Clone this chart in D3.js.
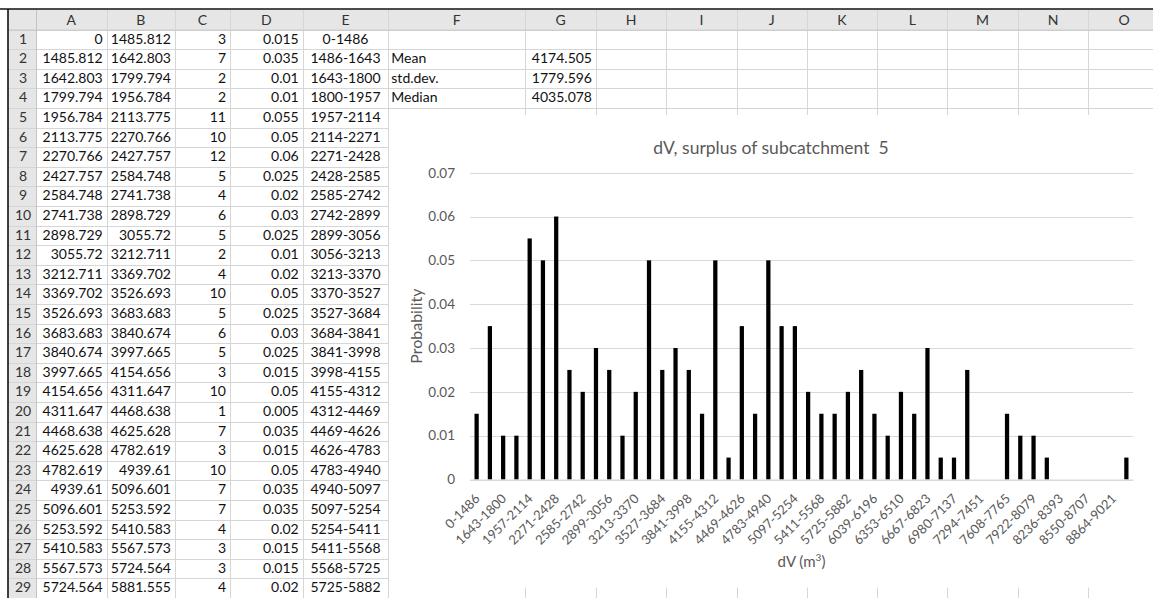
<!DOCTYPE html>
<html><head><meta charset="utf-8">
<script src="https://cdn.jsdelivr.net/npm/d3@7"></script>
<style>
html,body{margin:0;padding:0;background:#fff;}
svg{display:block;font-family:Lato, "Open Sans", sans-serif;}
text{white-space:pre;}
</style></head>
<body><svg id="c" width="1153" height="598"></svg>
<script>
// ---- data ----
const colLetters = ["A","B","C","D","E","F","G","H","I","J","K","L","M","N","O"];
const binLower = [0,1485.812,1642.803,1799.794,1956.784,2113.775,2270.766,2427.757,2584.748,2741.738,2898.729,3055.72,3212.711,3369.702,3526.693,3683.683,3840.674,3997.665,4154.656,4311.647,4468.638,4625.628,4782.619,4939.61,5096.601,5253.592,5410.583,5567.573,5724.564];
const binUpper = [1485.812,1642.803,1799.794,1956.784,2113.775,2270.766,2427.757,2584.748,2741.738,2898.729,3055.72,3212.711,3369.702,3526.693,3683.683,3840.674,3997.665,4154.656,4311.647,4468.638,4625.628,4782.619,4939.61,5096.601,5253.592,5410.583,5567.573,5724.564,5881.555];
const counts = [3,7,2,2,11,10,12,5,4,6,5,2,4,10,5,6,5,3,10,1,7,3,10,7,7,4,3,3,4];
const categories = ["0-1486","1486-1643","1643-1800","1800-1957","1957-2114","2114-2271","2271-2428","2428-2585","2585-2742","2742-2899","2899-3056","3056-3213","3213-3370","3370-3527","3527-3684","3684-3841","3841-3998","3998-4155","4155-4312","4312-4469","4469-4626","4626-4783","4783-4940","4940-5097","5097-5254","5254-5411","5411-5568","5568-5725","5725-5882","5882-6039","6039-6196","6196-6353","6353-6510","6510-6667","6667-6823","6823-6980","6980-7137","7137-7294","7294-7451","7451-7608","7608-7765","7765-7922","7922-8079","8079-8236","8236-8393","8393-8550","8550-8707","8707-8864","8864-9021","9021-9178"];
const probability = [0.015,0.035,0.01,0.01,0.055,0.05,0.06,0.025,0.02,0.03,0.025,0.01,0.02,0.05,0.025,0.03,0.025,0.015,0.05,0.005,0.035,0.015,0.05,0.035,0.035,0.02,0.015,0.015,0.02,0.025,0.015,0.01,0.02,0.015,0.03,0.005,0.005,0.025,0,0,0.015,0.01,0.01,0.005,0,0,0,0,0,0.005];
const statLabels = ["Mean","std.dev.","Median"];
const statValues = ["4174.505","1779.596","4035.078"];
const yTicks = [0,0.01,0.02,0.03,0.04,0.05,0.06,0.07];
const chartTitle = "dV, surplus of subcatchment  5";
const yTitle = "Probability";

// ---- sheet layout ----
const svg = d3.select("#c");
const colEdges = [8,36,106.7,175,230,302.7,388.3,525,596,666,736.7,806.7,877.3,947.3,1017.7,1088.3,1160];
const topY = 9.5, headH = 20, rowH = 19.6, nRows = 29;
const rowTop = r => topY + headH + (r-1)*rowH;
const W = 1153, H = 598;
const FS = "14px";
const base = rowH/2 + 4.2;

svg.append("rect").attr("x",colEdges[0]).attr("y",topY).attr("width",W-colEdges[0]).attr("height",headH).attr("fill","#e6e6e6");
svg.append("rect").attr("x",colEdges[0]).attr("y",topY).attr("width",colEdges[1]-colEdges[0]).attr("height",H-topY).attr("fill","#e6e6e6");

const grid = svg.append("g").attr("stroke-width",1);
for (let r=1;r<=nRows+1;r++){
  const y = Math.round(rowTop(r))+0.5;
  grid.append("line").attr("x1",colEdges[0]).attr("x2",W).attr("y1",y).attr("y2",y).attr("stroke","#d6d6d6");
}
colEdges.slice(1).forEach((x,i)=>{
  const xx = Math.round(x)+0.5;
  grid.append("line").attr("x1",xx).attr("x2",xx).attr("y1",topY).attr("y2",H)
    .attr("stroke", i===0 ? "#c4c4c4" : "#d6d6d6");
});
svg.append("line").attr("x1",colEdges[0]).attr("x2",W).attr("y1",topY+headH+0.5).attr("y2",topY+headH+0.5).attr("stroke","#c4c4c4");
svg.append("line").attr("x1",0).attr("x2",W).attr("y1",9).attr("y2",9).attr("stroke","#111").attr("stroke-width",1.6);
svg.append("line").attr("x1",8).attr("x2",8).attr("y1",9).attr("y2",H).attr("stroke","#111").attr("stroke-width",1.6);

const txt = svg.append("g").attr("font-size",FS).attr("fill","#111");
colLetters.forEach((c,i)=>{
  txt.append("text").attr("x",(colEdges[i+1]+colEdges[i+2])/2).attr("y",topY+headH/2+5)
    .attr("text-anchor","middle").attr("fill","#333").text(c);
});
for (let r=1;r<=nRows;r++){
  txt.append("text").attr("x",(colEdges[0]+colEdges[1])/2+1).attr("y",rowTop(r)+base)
    .attr("text-anchor","middle").attr("fill","#333").text(r);
}
for (let i=0;i<nRows;i++){
  const y = rowTop(i+1)+base;
  const vals = [binLower[i], binUpper[i], counts[i], probability[i]];
  vals.forEach((v,j)=>{
    txt.append("text").attr("x",colEdges[j+2]-4).attr("y",y).attr("text-anchor","end").text(String(v));
  });
  txt.append("text").attr("x",(colEdges[5]+colEdges[6])/2).attr("y",y).attr("text-anchor","middle").text(categories[i]);
}
statLabels.forEach((s,i)=>{
  const y = rowTop(i+2)+base;
  txt.append("text").attr("x",colEdges[6]+3).attr("y",y).text(s);
  txt.append("text").attr("x",colEdges[8]-4).attr("y",y).attr("text-anchor","end").text(statValues[i]);
});

// ---- chart ----
const chartX = 389, chartY = 115, chartB = 587.5;
svg.append("rect").attr("x",chartX).attr("y",chartY).attr("width",W-chartX).attr("height",chartB-chartY).attr("fill","#fff");

const plot = {l:470, r:1133, t:172.7, b:479.5};
const x = d3.scaleBand().domain(categories).range([plot.l, plot.r]).paddingInner(0.68).paddingOuter(0.34);
const y = d3.scaleLinear().domain([0,0.07]).range([plot.b, plot.t]);

const ch = svg.append("g");
ch.append("g").selectAll("line").data(yTicks).join("line")
  .attr("x1",plot.l).attr("x2",plot.r)
  .attr("y1",d=>Math.round(y(d))+0.5).attr("y2",d=>Math.round(y(d))+0.5)
  .attr("stroke","#d9d9d9").attr("stroke-width",1);

ch.append("g").selectAll("rect").data(probability).join("rect")
  .attr("x",(d,i)=>x(categories[i])).attr("width",x.bandwidth())
  .attr("y",d=>y(d)).attr("height",d=>y(0)-y(d)).attr("fill","#000");

const yAxis = d3.axisLeft(y).tickValues(yTicks).tickSize(0).tickPadding(15)
  .tickFormat(d=> d===0 ? "0" : d3.format(".2f")(d));
const ya = ch.append("g").attr("transform",`translate(${plot.l},0)`).call(yAxis);
ya.select(".domain").remove();
ya.selectAll("text").attr("font-family","Lato, sans-serif").attr("font-size","13.5px").attr("fill","#595959");

const xAxis = d3.axisBottom(x).tickValues(categories.filter((c,i)=>i%2===0)).tickSize(0).tickPadding(0);
const xa = ch.append("g").attr("transform",`translate(0,${plot.b})`).call(xAxis);
xa.select(".domain").attr("stroke","#d9d9d9");
xa.selectAll("text").attr("font-family","Lato, sans-serif").attr("font-size","13px").attr("fill","#595959")
  .attr("text-anchor","end").attr("dy",0).attr("y",0)
  .attr("transform","translate(4,20) rotate(-45)");

ch.append("text").attr("x",771).attr("y",154).attr("text-anchor","middle")
  .attr("font-size","17.5px").attr("fill","#595959").text(chartTitle);
ch.append("text").attr("transform",`translate(422,${(plot.t+plot.b)/2}) rotate(-90)`).attr("text-anchor","middle")
  .attr("font-size","16px").attr("fill","#595959").text(yTitle);
const xt = ch.append("text").attr("x",(plot.l+plot.r)/2).attr("y",567).attr("text-anchor","middle")
  .attr("font-size","15px").attr("fill","#595959");
xt.append("tspan").text("dV (m");
xt.append("tspan").attr("font-size","10px").attr("dy",-6).text("3");
xt.append("tspan").attr("dy",6).text(")");
</script>
</body></html>
